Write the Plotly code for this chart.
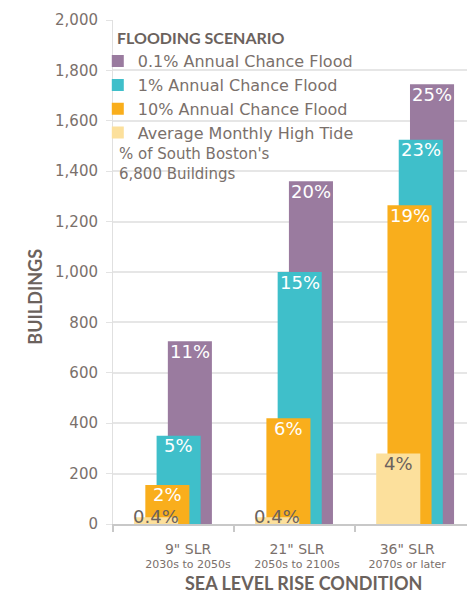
import plotly.graph_objects as go

# categories / tick labels
slr = ['9" SLR', '21" SLR', '36" SLR']
periods = ["2030s to 2050s", "2050s to 2100s", "2070s or later"]

# buildings affected per flooding scenario
flood_01 = [725, 1360, 1745]
flood_1 = [350, 1000, 1525]
flood_10 = [155, 420, 1265]
high_tide = [27, 27, 280]

# % of South Boston's 6,800 buildings
pct_01 = ["11%", "20%", "25%"]
pct_1 = ["5%", "15%", "23%"]
pct_10 = ["2%", "6%", "19%"]
pct_tide = ["0.4%", "0.4%", "4%"]

TXT = "#7a706b"
DARK = "#6b625d"
FONT = "DejaVu Sans"
TITLE_FONT = "Lato"

BAR_W = 0.364
# (name, values, labels, colour, centre shift from category, label colour)
series = [
    ("0.1% Annual Chance Flood", flood_01, pct_01, "#9a7b9f", 0.135, "white"),
    ("1% Annual Chance Flood", flood_1, pct_1, "#3fbfca", 0.042, "white"),
    ("10% Annual Chance Flood", flood_10, pct_10, "#f9ae1c", -0.051, "white"),
    ("Average Monthly High Tide", high_tide, pct_tide, "#fce09c", -0.144, DARK),
]

x = list(range(len(slr)))
fig = go.Figure()
annotations = []

for name, vals, labels, color, shift, lab_color in series:
    fig.add_trace(
        go.Bar(
            x=x,
            y=vals,
            name=name,
            marker=dict(color=color, line=dict(width=0)),
            width=BAR_W,
            offset=shift - BAR_W / 2,
            hoverinfo="name+y",
        )
    )
    for xi, v, lab in zip(x, vals, labels):
        small = v < 100
        annotations.append(
            dict(
                x=xi + shift,
                y=0 if small else v,
                xref="x",
                yref="y",
                text=lab,
                showarrow=False,
                yanchor="middle",
                yshift=8 if small else -10,
                font=dict(family=FONT, size=18, color=DARK if small else lab_color),
            )
        )

annotations += [
    dict(
        text="<b>FLOODING SCENARIO</b>",
        x=0.0055, y=0.965, xref="paper", yref="paper",
        xanchor="left", yanchor="middle", showarrow=False,
        font=dict(family=TITLE_FONT, size=16, color=DARK),
    ),
    dict(
        text="% of South Boston's<br>6,800 Buildings",
        x=0.012, y=0.755, xref="paper", yref="paper",
        xanchor="left", yanchor="top", align="left", showarrow=False,
        font=dict(family=FONT, size=15, color=TXT),
    ),
    dict(
        text="<b>BUILDINGS</b>",
        x=-0.25, y=0.45, xref="paper", yref="paper", textangle=-90,
        showarrow=False,
        font=dict(family=TITLE_FONT, size=18, color=DARK),
    ),
    dict(
        text="<b>SEA LEVEL RISE CONDITION</b>",
        x=0.525, y=-0.117, xref="paper", yref="paper",
        yanchor="middle", showarrow=False,
        font=dict(family=TITLE_FONT, size=18, color=DARK),
    ),
]

ticktext = [
    f"<span style='font-size:14px'>{s}</span><br>{p}" for s, p in zip(slr, periods)
]

# page body has an 8px margin, so the figure is 8px smaller than the window
fig.update_layout(
    width=467,
    height=585,
    barmode="overlay",
    plot_bgcolor="white",
    paper_bgcolor="white",
    margin=dict(l=105, r=0, t=12, b=69, autoexpand=False),
    font=dict(family=FONT, color=TXT),
    showlegend=True,
    legend=dict(
        traceorder="normal",
        x=-0.042,
        y=0.952,
        xanchor="left",
        yanchor="top",
        bgcolor="rgba(0,0,0,0)",
        font=dict(family=FONT, size=16, color=TXT),
        itemclick=False,
    ),
    xaxis=dict(
        range=[-0.5, 2.49],
        tickmode="array",
        tickvals=[0.12, 1.02, 1.93],
        ticktext=ticktext,
        ticks="",
        tickfont=dict(size=11, color=TXT),
        ticklabelstandoff=15,
        showgrid=False,
        showline=True,
        linecolor="#c8c8c8",
        linewidth=1.5,
        minor=dict(tick0=-0.5, dtick=1, ticks="outside", ticklen=6,
                   tickcolor="#c8c8c8", tickwidth=1.5, showgrid=False),
        zeroline=False,
        automargin=False,
        fixedrange=True,
    ),
    yaxis=dict(
        range=[0, 2000],
        tickvals=list(range(0, 2001, 200)),
        tickformat=",d",
        tickfont=dict(size=15, color=TXT),
        ticks="outside",
        ticklen=6,
        tickcolor="#e3e3e3",
        ticklabelstandoff=5,
        showgrid=True,
        gridcolor="#e6e6e6",
        gridwidth=1.5,
        showline=True,
        linecolor="#e0e0e0",
        zeroline=False,
        automargin=False,
        fixedrange=True,
    ),
    annotations=annotations,
)

fig.write_html("out.html")
